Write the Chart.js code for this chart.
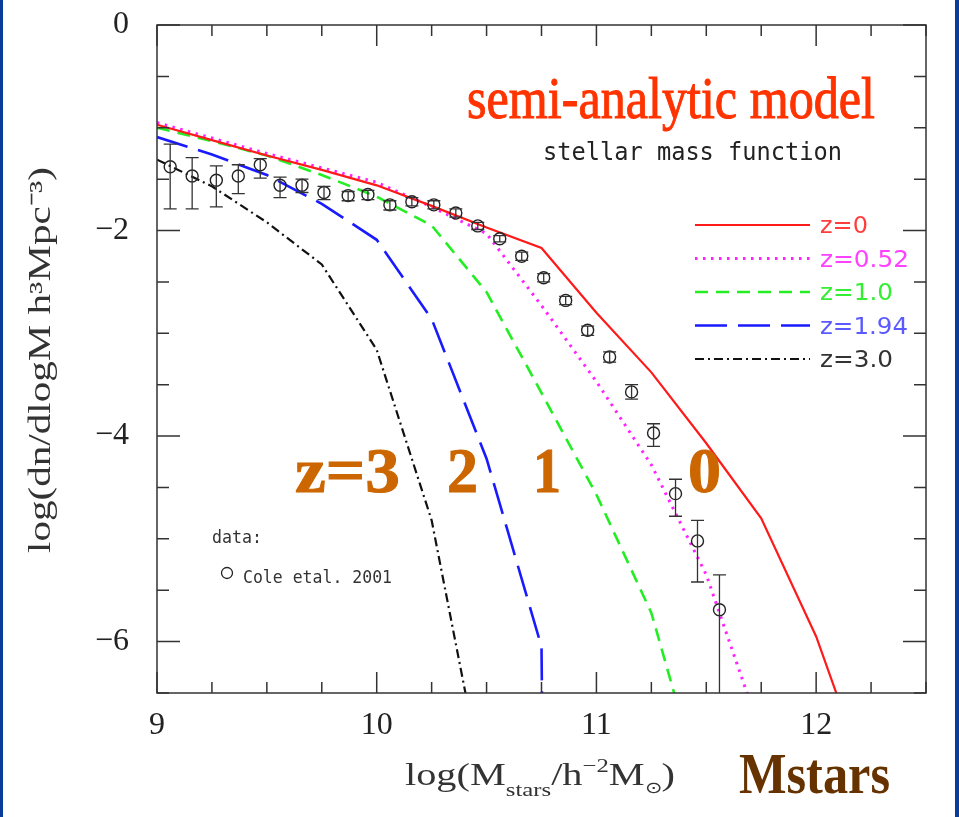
<!DOCTYPE html>
<html>
<head>
<meta charset="utf-8">
<script src="https://cdn.jsdelivr.net/npm/chart.js@4.4.1/dist/chart.umd.min.js"></script>
<style>
  html, body { margin: 0; padding: 0; background: #fff; }
  canvas { display: block; }
</style>
</head>
<body>
<canvas id="smf" width="959" height="817"></canvas>
<script>
// model curves: log M grid and log(dn/dlogM) per redshift
const massGrid = [9.0, 9.25, 9.5, 9.75, 10.0, 10.25, 10.5, 10.75, 11.0, 11.25, 11.5, 11.75, 12.0, 12.25];
const z0   = [-0.97, -1.12, -1.27, -1.41, -1.56, -1.76, -1.97, -2.17, -2.80, -3.38, -4.07, -4.80, -5.95, -7.45];
const z052 = [-0.95, -1.10, -1.25, -1.39, -1.53, -1.77, -2.03, -2.73, -3.47, -4.28, -5.35, -6.90];
const z10  = [-1.00, -1.13, -1.27, -1.46, -1.67, -1.95, -2.60, -3.58, -4.57, -5.72, -7.60];
const z194 = [-1.09, -1.26, -1.46, -1.74, -2.09, -2.86, -4.22, -6.05, -60];
const z30  = [-1.31, -1.57, -1.92, -2.33, -3.16, -4.82, -7.55];

// Cole et al. 2001 data points with error bars
const coleMass = [9.06, 9.16, 9.27, 9.37, 9.47, 9.56, 9.66, 9.76, 9.87, 9.96, 10.06, 10.16, 10.26,
                  10.36, 10.46, 10.56, 10.66, 10.76, 10.86, 10.96, 11.06, 11.16, 11.26, 11.36, 11.46, 11.56];
const colePhi  = [-1.38, -1.47, -1.51, -1.47, -1.36, -1.56, -1.56, -1.63, -1.66, -1.65, -1.75, -1.72, -1.75,
                  -1.83, -1.955, -2.08, -2.25, -2.46, -2.68, -2.97, -3.23, -3.57, -3.97, -4.56, -5.02, -5.69];
const coleHi   = [-1.16, -1.29, -1.37, -1.36, -1.30, -1.48, -1.50, -1.57, -1.62, -1.61, -1.71, -1.68, -1.71,
                  -1.79, -1.92, -2.05, -2.21, -2.42, -2.64, -2.93, -3.18, -3.50, -3.88, -4.42, -4.82, -5.35];
const coleLo   = [-1.79, -1.79, -1.77, -1.64, -1.49, -1.68, -1.63, -1.70, -1.71, -1.70, -1.80, -1.76, -1.79,
                  -1.87, -1.99, -2.11, -2.29, -2.50, -2.72, -3.02, -3.28, -3.64, -4.10, -4.78, -5.42, -7.50];

const xTicks = [9, 10, 11, 12];
const yTicks = [-6, -4, -2, 0];
const seriesLabels = ['z=0', 'z=0.52', 'z=1.0', 'z=1.94', 'z=3.0'];

function pts(xs, ys) {
  return ys.map((y, i) => ({ x: xs[i], y: y }));
}

// draw text squeezed/stretched to a given width
function fitText(c, txt, x, y, w, font, color, sy, stroke) {
  c.save();
  c.font = font;
  c.fillStyle = color;
  c.textBaseline = 'alphabetic';
  const m = c.measureText(txt).width;
  c.translate(x, y);
  c.scale(w / m, sy || 1);
  c.fillText(txt, 0, 0);
  if (stroke) {
    c.strokeStyle = color;
    c.lineWidth = stroke;
    c.strokeText(txt, 0, 0);
  }
  c.restore();
}

const decor = {
  id: 'decor',
  beforeDraw(chart) {
    const c = chart.ctx;
    c.save();
    c.fillStyle = '#fff';
    c.fillRect(0, 0, chart.width, chart.height);
    c.fillStyle = '#0b3c9c';
    c.fillRect(0, 0, 3, chart.height);
    c.fillRect(955, 0, 4, chart.height);
    c.restore();
  },
  afterDatasetsDraw(chart) {
    // error bars on the data points
    const c = chart.ctx, xs = chart.scales.x, ys = chart.scales.y, a = chart.chartArea;
    c.save();
    c.beginPath();
    c.rect(a.left, a.top, a.right - a.left, a.bottom - a.top);
    c.clip();
    c.strokeStyle = '#333';
    c.lineWidth = 1.3;
    coleMass.forEach((m, i) => {
      const px = xs.getPixelForValue(m);
      const hi = ys.getPixelForValue(coleHi[i]);
      const lo = ys.getPixelForValue(coleLo[i]);
      c.beginPath();
      c.moveTo(px, hi); c.lineTo(px, lo);
      c.moveTo(px - 6.5, hi); c.lineTo(px + 6.5, hi);
      c.moveTo(px - 6.5, lo); c.lineTo(px + 6.5, lo);
      c.stroke();
    });
    c.restore();
  },
  afterDraw(chart) {
    const c = chart.ctx, xs = chart.scales.x, ys = chart.scales.y, a = chart.chartArea;
    c.save();
    // frame
    c.strokeStyle = '#333';
    c.lineWidth = 1.5;
    c.strokeRect(a.left, a.top, a.right - a.left, a.bottom - a.top);
    // inward ticks on all four sides
    c.beginPath();
    for (let v = xs.min; v <= xs.max + 1e-9; v += 0.25) {
      const px = xs.getPixelForValue(v);
      const len = xTicks.includes(v) ? 21 : 11;
      c.moveTo(px, a.bottom); c.lineTo(px, a.bottom - len);
      c.moveTo(px, a.top); c.lineTo(px, a.top + len);
    }
    for (let v = ys.min; v <= ys.max + 1e-9; v += 0.5) {
      const py = ys.getPixelForValue(v);
      const len = yTicks.includes(v) ? 23 : 12;
      c.moveTo(a.left, py); c.lineTo(a.left + len, py);
      c.moveTo(a.right, py); c.lineTo(a.right - len, py);
    }
    c.stroke();

    // y axis title
    c.save();
    c.translate(50, 553);
    c.rotate(-Math.PI / 2);
    fitText(c, 'log(dn/dlogM h\u00B3Mpc\u207B\u00B3)', 0, 0, 386, '31px "Liberation Serif"', '#333');
    c.restore();

    // x axis title with sub/superscripts
    const pieces = [
      { t: 'log(M', s: 31, dy: 0 },
      { t: 'stars', s: 19, dy: 11 },
      { t: '/h', s: 31, dy: 0 },
      { t: '\u22122', s: 19, dy: -13 },
      { t: 'M', s: 31, dy: 0 },
      { t: '\u2299', s: 16, dy: 8 },
      { t: ')', s: 31, dy: 0 }
    ];
    let total = 0;
    pieces.forEach(p => { c.font = p.s + 'px "Liberation Serif"'; p.w = c.measureText(p.t).width; total += p.w; });
    c.save();
    c.translate(405, 785);
    c.scale(270 / total, 1);
    c.fillStyle = '#333';
    let cx = 0;
    pieces.forEach(p => {
      c.font = p.s + 'px "Liberation Serif"';
      c.fillText(p.t, cx, p.dy);
      cx += p.w;
    });
    c.restore();

    // annotations
    fitText(c, 'semi-analytic model', 467, 118, 408, '52px "Liberation Serif"', '#ff3300', 1.12, 0.9);
    fitText(c, 'stellar mass function', 543, 160, 299, '24px "DejaVu Sans Mono"', '#222');
    const orange = '#cc6600';
    const bold = 'bold 64px "Liberation Serif"';
    fitText(c, 'z=3', 295, 492, 105, bold, orange, 1, 1);
    fitText(c, '2', 447, 492, 31, bold, orange, 1, 1);
    fitText(c, '1', 533, 492, 28, bold, orange, 1, 1);
    fitText(c, '0', 688, 492, 33, bold, orange, 1, 1);
    fitText(c, 'Mstars', 739, 793, 151, 'bold 56px "Liberation Serif"', '#663300');

    fitText(c, 'data:', 212, 543, 50, '18px "DejaVu Sans Mono"', '#333');
    c.strokeStyle = '#222';
    c.lineWidth = 1.3;
    c.beginPath();
    c.arc(227, 573, 5.5, 0, Math.PI * 2);
    c.stroke();
    fitText(c, 'Cole etal. 2001', 243, 583, 149, '18px "DejaVu Sans Mono"', '#333');

    // legend for model curves
    const legW = [48, 89, 73, 88, 73];
    chart.data.datasets.filter(d => d.isModel).forEach((d, i) => {
      const y = 225 + i * 33.5;
      c.save();
      c.strokeStyle = d.borderColor;
      c.lineWidth = d.borderWidth;
      c.setLineDash(d.borderDash || []);
      c.beginPath();
      c.moveTo(695, y); c.lineTo(810, y);
      c.stroke();
      c.restore();
      fitText(c, d.label, 820, y + 8, legW[i], '23px "DejaVu Sans"', d.textColor);
    });
    c.restore();
  }
};

const lineBase = { showLine: true, pointRadius: 0, pointHoverRadius: 0, fill: false, isModel: true, order: 2 };

new Chart(document.getElementById('smf').getContext('2d'), {
  type: 'scatter',
  data: {
    datasets: [
      Object.assign({}, lineBase, { label: seriesLabels[0], data: pts(massGrid, z0),
        borderColor: '#ff1a1a', borderWidth: 2.2, textColor: '#ff3d3d' }),
      Object.assign({}, lineBase, { label: seriesLabels[1], data: pts(massGrid, z052),
        borderColor: '#ff22ff', borderWidth: 3, borderDash: [2.5, 5.5], textColor: '#ff40ff' }),
      Object.assign({}, lineBase, { label: seriesLabels[2], data: pts(massGrid, z10),
        borderColor: '#22ee22', borderWidth: 2.6, borderDash: [13, 8], textColor: '#33ee33' }),
      Object.assign({}, lineBase, { label: seriesLabels[3], data: pts(massGrid, z194),
        borderColor: '#1a1aff', borderWidth: 2.6, borderDash: [32, 11], textColor: '#5a5aff' }),
      Object.assign({}, lineBase, { label: seriesLabels[4], data: pts(massGrid, z30),
        borderColor: '#111', borderWidth: 2.2, borderDash: [9, 4, 2, 4], textColor: '#333' }),
      {
        label: 'Cole etal. 2001',
        data: pts(coleMass, colePhi),
        showLine: false,
        pointRadius: 6,
        pointHoverRadius: 6,
        pointBorderWidth: 1.4,
        pointBorderColor: '#222',
        pointBackgroundColor: 'rgba(0,0,0,0)',
        order: 0
      }
    ]
  },
  options: {
    responsive: false,
    animation: false,
    events: [],
    layout: { padding: { left: 0, top: 25, right: 33, bottom: 0 } },
    plugins: {
      legend: { display: false },
      tooltip: { enabled: false }
    },
    scales: {
      x: {
        type: 'linear',
        min: 9,
        max: 12.5,
        afterBuildTicks: s => { s.ticks = xTicks.map(v => ({ value: v })); },
        afterFit: s => { s.height = 124; s.paddingLeft = 0; s.paddingRight = 0; },
        grid: { display: false },
        border: { display: false },
        ticks: {
          autoSkip: false,
          maxRotation: 0,
          padding: 5,
          color: '#222',
          font: { family: 'Liberation Serif', size: 32 },
          callback: v => String(v)
        }
      },
      y: {
        type: 'linear',
        min: -6.5,
        max: 0,
        afterBuildTicks: s => { s.ticks = yTicks.map(v => ({ value: v })); },
        afterFit: s => { s.width = 157; s.paddingTop = 0; s.paddingBottom = 0; },
        grid: { display: false },
        border: { display: false },
        ticks: {
          padding: 20,
          color: '#222',
          font: { family: 'Liberation Serif', size: 32 },
          callback: v => (v < 0 ? '\u2212' + Math.abs(v) : String(v))
        }
      }
    }
  },
  plugins: [decor]
});
</script>
</body>
</html>
